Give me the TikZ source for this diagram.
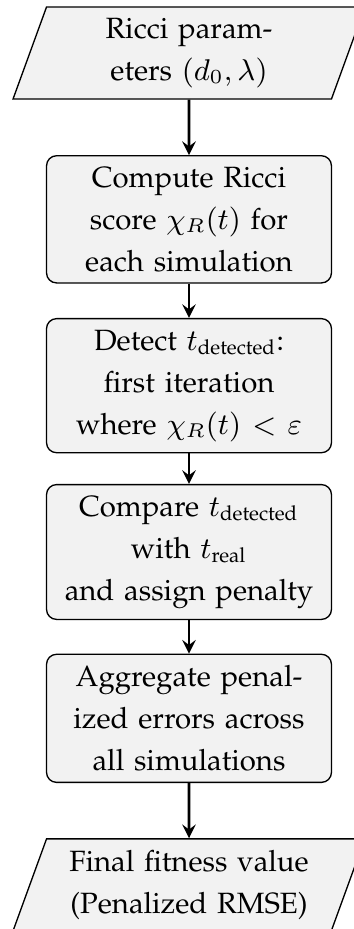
\documentclass[tikz,border=0pt]{standalone}
\usepackage[T1]{fontenc}
\usepackage{palatino}
\usepackage{amsmath, amssymb}
\usetikzlibrary{shapes.geometric,positioning}

\tikzset{
  procbox/.style={rectangle, rounded corners=3pt, draw=black, fill=gray!10,
    text width=2.77cm, align=center, font=\fontsize{8.8pt}{12.6pt}\selectfont},
  iobox/.style={trapezium, trapezium left angle=70, trapezium right angle=110,
    draw=black, fill=gray!10, text width=2.77cm, align=center,
    font=\fontsize{8.8pt}{12.6pt}\selectfont},
}

\begin{document}
\begin{tikzpicture}[->,>=stealth,thick,node distance=49.9pt]
\useasboundingbox (-56.7pt,15.9pt) rectangle (49.5pt,-262.8pt);
\node[iobox, thin] (params) {Ricci param-\\eters $(d_0,\lambda)$};
\node[procbox, thin] (score) [below of=params] {Compute Ricci\\score $\chi_R(t)$ for\\each simulation};
\node[procbox, thin] (detect) [below of=score] {Detect $t_{\text{detected}}$:\\first iteration\\where $\chi_R(t) < \varepsilon$};
\node[procbox, thin] (compare) [below of=detect] {Compare $t_{\text{detected}}$\\with $t_{\text{real}}$\\and assign penalty};
\node[procbox, thin] (aggr) [below of=compare] {Aggregate penal-\\ized errors across\\all simulations};
\node[iobox, thin] (fitness) [below of=aggr] {Final fitness value\\(Penalized RMSE)};
\path
(params) edge (score)
(score) edge (detect)
(detect) edge (compare)
(compare) edge (aggr)
(aggr) edge (fitness);
\end{tikzpicture}
\end{document}
